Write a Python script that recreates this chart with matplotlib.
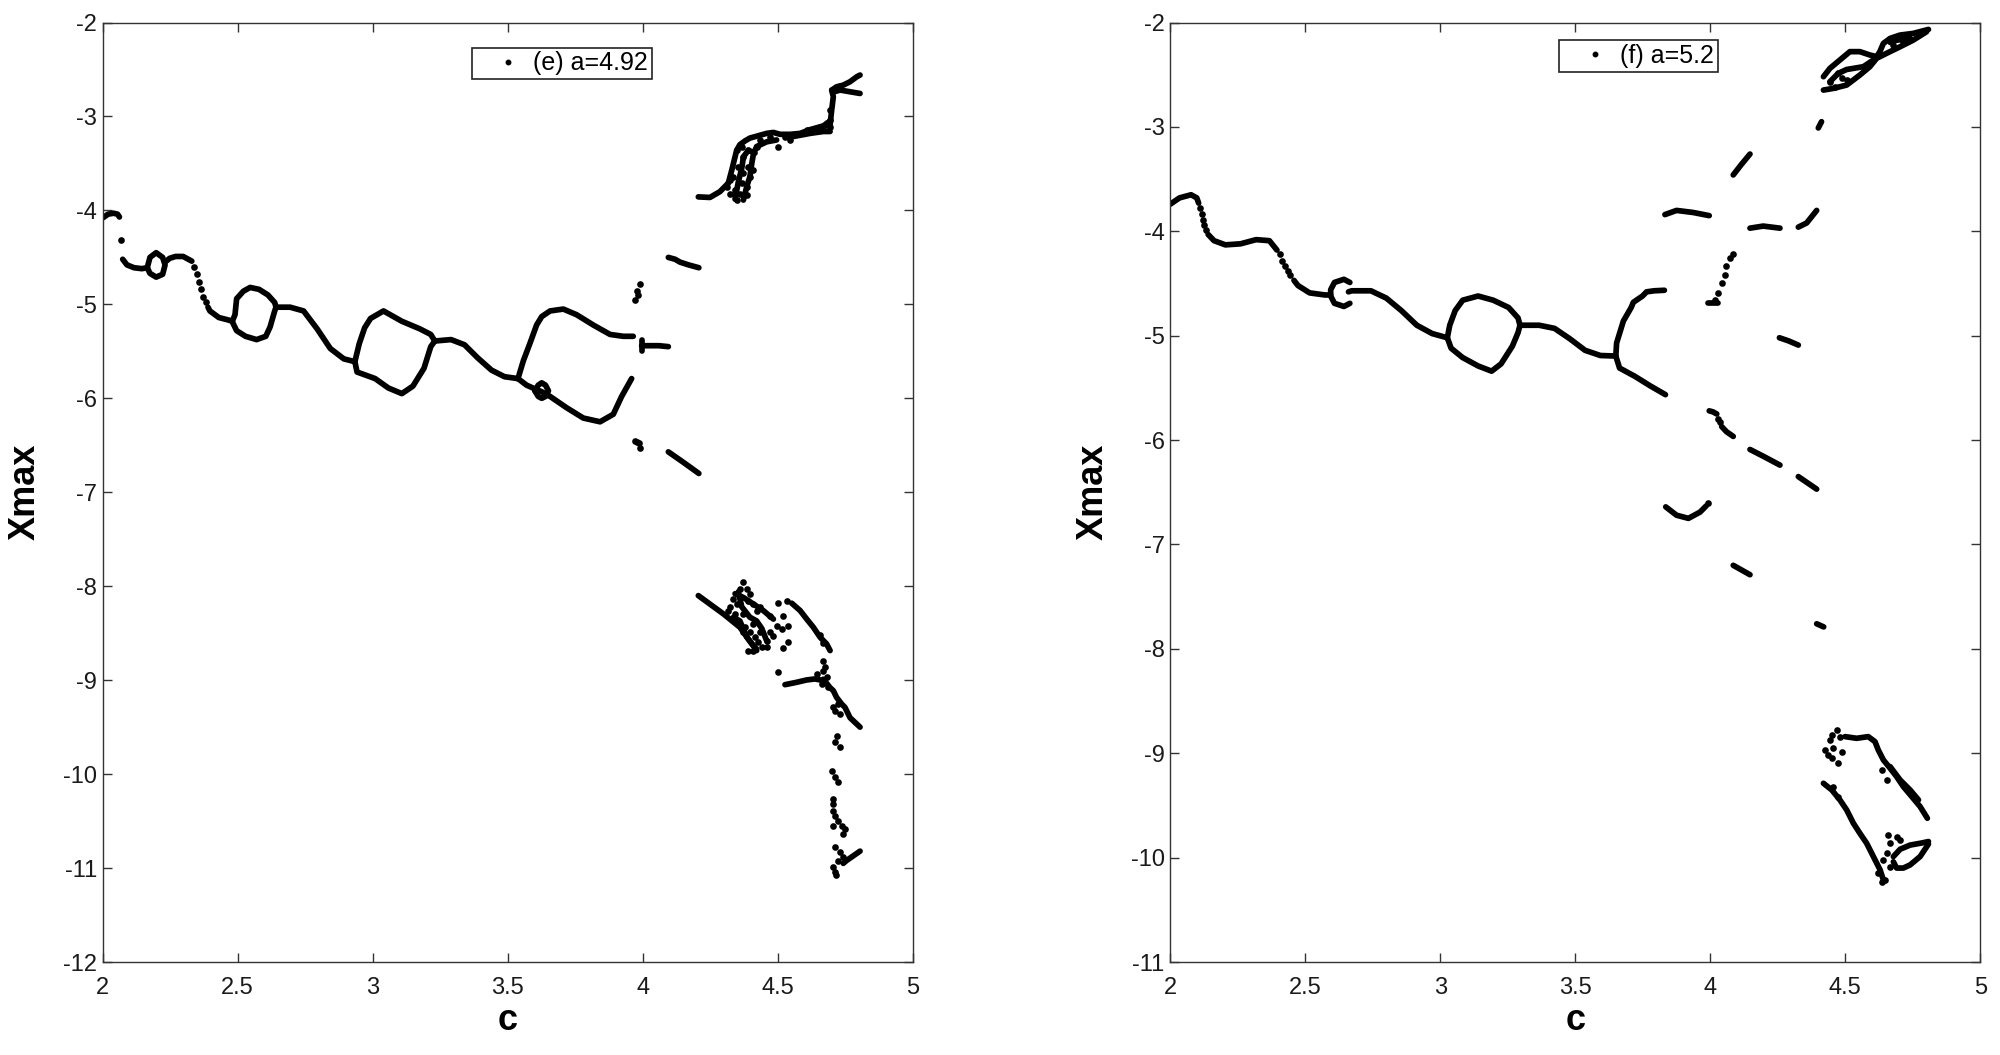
import matplotlib.pyplot as plt
from matplotlib.lines import Line2D

plt.rcParams['font.family'] = ['Liberation Sans', 'DejaVu Sans']

# x ticks shared by both panels
c_ticks = [2, 2.5, 3, 3.5, 4, 4.5, 5]
c_tick_labels = ['2', '2.5', '3', '3.5', '4', '4.5', '5']

# ---------------- panel (e), a = 4.92 ----------------
e_label = '(e) a=4.92'
e_yticks = [-12, -11, -10, -9, -8, -7, -6, -5, -4, -3, -2]

# dense branches (c values, Xmax values)
e_branches = [
    ([2.00, 2.02, 2.04, 2.055, 2.062], [-4.08, -4.04, -4.03, -4.04, -4.07]),
    ([2.074, 2.09, 2.116, 2.145, 2.165], [-4.52, -4.58, -4.61, -4.62, -4.61]),
    ([2.165, 2.175, 2.198, 2.222, 2.231, 2.222, 2.198, 2.175, 2.165],
     [-4.61, -4.50, -4.45, -4.50, -4.58, -4.68, -4.71, -4.67, -4.61]),
    ([2.231, 2.248, 2.27, 2.298, 2.33], [-4.55, -4.51, -4.49, -4.49, -4.54]),
    ([2.39, 2.397, 2.43, 2.47, 2.48], [-5.03, -5.07, -5.14, -5.17, -5.18]),
    ([2.48, 2.49, 2.496, 2.521, 2.546, 2.579, 2.612, 2.637, 2.642],
     [-5.18, -5.11, -4.94, -4.86, -4.82, -4.84, -4.90, -4.98, -5.03]),
    ([2.48, 2.496, 2.529, 2.570, 2.604, 2.62, 2.637, 2.642],
     [-5.185, -5.28, -5.34, -5.375, -5.34, -5.24, -5.07, -5.03]),
    ([2.642, 2.665, 2.694, 2.744, 2.794, 2.843, 2.893, 2.934],
     [-5.03, -5.03, -5.03, -5.07, -5.26, -5.47, -5.58, -5.61]),
    ([2.934, 2.95, 2.97, 2.992, 3.04, 3.108, 3.174, 3.215, 3.23],
     [-5.61, -5.42, -5.25, -5.15, -5.07, -5.18, -5.26, -5.32, -5.39]),
    ([2.934, 2.942, 3.009, 3.058, 3.108, 3.149, 3.19, 3.215, 3.23],
     [-5.61, -5.72, -5.79, -5.89, -5.95, -5.87, -5.68, -5.45, -5.39]),
    ([3.23, 3.29, 3.34, 3.389, 3.44, 3.488, 3.538],
     [-5.39, -5.375, -5.43, -5.57, -5.70, -5.77, -5.79]),
    ([3.538, 3.558, 3.583, 3.607, 3.626, 3.657, 3.706, 3.755, 3.817, 3.879, 3.928, 3.965],
     [-5.79, -5.60, -5.41, -5.22, -5.13, -5.07, -5.05, -5.11, -5.22, -5.32, -5.34, -5.34]),
    ([3.538, 3.57, 3.601, 3.626, 3.657, 3.718, 3.78, 3.842, 3.891, 3.922, 3.959],
     [-5.79, -5.86, -5.90, -5.93, -5.98, -6.10, -6.21, -6.25, -6.17, -5.98, -5.79]),
    ([3.601, 3.613, 3.626, 3.64, 3.651, 3.64, 3.626, 3.613, 3.601],
     [-5.92, -5.86, -5.835, -5.86, -5.92, -5.98, -6.0, -5.98, -5.92]),
    ([3.996, 4.03, 4.06, 4.095], [-5.44, -5.44, -5.44, -5.45]),
    ([3.996, 3.996], [-5.38, -5.50]),
    ([4.095, 4.12, 4.138, 4.17, 4.208], [-4.50, -4.52, -4.55, -4.58, -4.61]),
    ([4.095, 4.15, 4.208], [-6.57, -6.68, -6.80]),
    ([4.206, 4.249, 4.286, 4.317], [-3.856, -3.862, -3.80, -3.71]),
    ([4.317, 4.330, 4.348, 4.360, 4.379, 4.397, 4.422, 4.459, 4.484, 4.509, 4.546, 4.583, 4.620, 4.669, 4.694],
     [-3.71, -3.57, -3.36, -3.30, -3.26, -3.23, -3.21, -3.18, -3.17, -3.19, -3.19, -3.18, -3.14, -3.10, -3.05]),
    ([4.373, 4.385, 4.397, 4.404, 4.410, 4.422, 4.459, 4.496],
     [-3.89, -3.75, -3.64, -3.50, -3.40, -3.32, -3.27, -3.25]),
    ([4.342, 4.354, 4.367, 4.373, 4.391, 4.416],
     [-3.88, -3.70, -3.55, -3.43, -3.36, -3.39]),
    ([4.546, 4.583, 4.620, 4.669, 4.694], [-3.22, -3.20, -3.18, -3.16, -3.16]),
    ([4.694, 4.700, 4.706, 4.700], [-3.09, -2.93, -2.79, -2.72]),
    ([4.700, 4.718, 4.743, 4.768, 4.793, 4.805], [-2.72, -2.684, -2.666, -2.630, -2.577, -2.559]),
    ([4.706, 4.731, 4.768, 4.805], [-2.74, -2.719, -2.737, -2.755]),
    ([4.206, 4.299, 4.360, 4.422], [-8.100, -8.295, -8.437, -8.685]),
    ([4.342, 4.373, 4.410, 4.447, 4.484], [-8.08, -8.12, -8.19, -8.26, -8.35]),
    ([4.336, 4.360, 4.385, 4.404, 4.422], [-8.33, -8.37, -8.54, -8.61, -8.67]),
    ([4.354, 4.367, 4.397, 4.422, 4.441, 4.459], [-8.06, -8.22, -8.33, -8.37, -8.45, -8.58]),
    ([4.552, 4.583, 4.607, 4.632, 4.657, 4.681, 4.694],
     [-8.181, -8.259, -8.348, -8.437, -8.543, -8.614, -8.685]),
    ([4.527, 4.570, 4.607, 4.638, 4.669], [-9.048, -9.023, -8.998, -8.987, -9.005]),
    ([4.669, 4.694, 4.706, 4.718, 4.737, 4.749, 4.768, 4.805],
     [-8.99, -9.08, -9.112, -9.183, -9.254, -9.289, -9.40, -9.50]),
    ([4.743, 4.755, 4.780, 4.805], [-10.95, -10.92, -10.87, -10.82]),
]

# isolated points of panel (e)
e_dots_c = [2.066, 2.34, 2.35, 2.357, 2.365, 2.373, 2.382,
            3.99, 3.984, 3.972, 3.978, 3.97, 3.985, 3.99, 3.978,
            4.311, 4.336, 4.348, 4.373, 4.360, 4.348, 4.385, 4.397, 4.422, 4.472,
            4.502, 4.527, 4.694, 4.694, 4.688,
            4.323, 4.342, 4.323, 4.354, 4.373, 4.391, 4.367, 4.391, 4.410, 4.385,
            4.367, 4.434, 4.546, 4.607, 4.657, 4.681, 4.694, 4.669,
            4.373, 4.360, 4.336, 4.348, 4.397, 4.410, 4.422, 4.434, 4.472, 4.317,
            4.379, 4.410, 4.434, 4.459, 4.484, 4.391, 4.323,
            4.385, 4.391, 4.342, 4.373, 4.472, 4.416, 4.397, 4.373, 4.428, 4.441,
            4.410, 4.459,
            4.502, 4.533, 4.521, 4.496, 4.515, 4.539, 4.539, 4.521, 4.502,
            4.644, 4.669, 4.681, 4.663, 4.688, 4.669, 4.675, 4.657, 4.669,
            4.706, 4.725, 4.712, 4.731, 4.718, 4.712, 4.731, 4.700, 4.712, 4.725,
            4.704, 4.706, 4.704, 4.712, 4.725, 4.737, 4.706, 4.749, 4.743, 4.712,
            4.731, 4.743, 4.725, 4.706, 4.712, 4.716]
e_dots_x = [-4.31, -4.60, -4.68, -4.76, -4.84, -4.92, -4.98,
            -4.78, -4.90, -4.956, -4.86, -6.45, -6.48, -6.53, -6.47,
            -3.749, -3.642, -3.358, -3.607, -3.820, -3.891, -3.749, -3.642, -3.323, -3.216,
            -3.323, -3.216, -3.110, -2.932, -3.092,
            -3.678, -3.784, -3.820, -3.536, -3.429, -3.358, -3.323, -3.536, -3.571, -3.838,
            -3.713, -3.252, -3.252, -3.145, -3.128, -3.074, -3.039, -3.110,
            -7.957, -8.028, -8.135, -8.188, -8.082, -8.188, -8.259, -8.224, -8.313, -8.259,
            -8.437, -8.401, -8.490, -8.579, -8.526, -8.685, -8.224,
            -8.028, -8.153, -8.295, -8.295, -8.490, -8.543, -8.490, -8.490, -8.597, -8.650,
            -8.685, -8.650,
            -8.181, -8.160, -8.313, -8.419, -8.455, -8.419, -8.597, -8.657, -8.916,
            -8.934, -8.899, -8.970, -9.041, -9.076, -8.792, -8.863, -8.52, -8.60,
            -9.289, -9.254, -9.325, -9.360, -9.591, -9.662, -9.715, -9.964, -10.035, -10.088,
            -10.266, -10.319, -10.390, -10.443, -10.497, -10.550, -10.550, -10.585, -10.639, -10.781,
            -10.834, -10.887, -10.923, -10.994, -11.047, -11.07]

# ---------------- panel (f), a = 5.2 ----------------
f_label = '(f) a=5.2'
f_yticks = [-11, -10, -9, -8, -7, -6, -5, -4, -3, -2]

f_branches = [
    ([2.00, 2.034, 2.077, 2.098, 2.105], [-3.74, -3.68, -3.65, -3.68, -3.73]),
    ([2.14, 2.162, 2.204, 2.26, 2.318, 2.367, 2.395], [-4.03, -4.09, -4.13, -4.12, -4.08, -4.09, -4.18]),
    ([2.458, 2.473, 2.516, 2.573, 2.594], [-4.47, -4.52, -4.59, -4.61, -4.61]),
    ([2.665, 2.643, 2.608, 2.594, 2.594, 2.608, 2.643, 2.665],
     [-4.49, -4.46, -4.49, -4.56, -4.62, -4.69, -4.72, -4.69]),
    ([2.66, 2.672, 2.743, 2.80, 2.856, 2.913, 2.97, 3.026],
     [-4.58, -4.57, -4.57, -4.64, -4.76, -4.90, -4.98, -5.02]),
    ([3.026, 3.035, 3.055, 3.083, 3.14, 3.196, 3.253, 3.288, 3.295],
     [-5.02, -4.90, -4.76, -4.66, -4.62, -4.66, -4.73, -4.83, -4.90]),
    ([3.026, 3.04, 3.083, 3.14, 3.19, 3.225, 3.267, 3.288, 3.295],
     [-5.02, -5.12, -5.21, -5.29, -5.34, -5.27, -5.10, -4.97, -4.90]),
    ([3.295, 3.366, 3.423, 3.48, 3.536, 3.593, 3.65],
     [-4.90, -4.90, -4.93, -5.03, -5.14, -5.19, -5.195]),
    ([3.65, 3.653, 3.678, 3.707, 3.715, 3.749, 3.764, 3.792, 3.83],
     [-5.195, -5.07, -4.86, -4.73, -4.68, -4.62, -4.58, -4.57, -4.565]),
    ([3.65, 3.664, 3.721, 3.777, 3.834], [-5.195, -5.31, -5.39, -5.48, -5.565]),
    ([3.832, 3.875, 3.937, 3.996], [-3.84, -3.80, -3.82, -3.85]),
    ([3.993, 4.03], [-4.69, -4.69]),
    ([4.085, 4.115, 4.147], [-3.46, -3.36, -3.26]),
    ([4.147, 4.196, 4.258], [-3.97, -3.95, -3.97]),
    ([4.326, 4.357, 4.394], [-3.96, -3.92, -3.80]),
    ([4.400, 4.412], [-3.01, -2.95]),
    ([4.419, 4.456, 4.505, 4.554, 4.591, 4.616, 4.653, 4.703, 4.752, 4.801],
     [-2.647, -2.631, -2.599, -2.503, -2.423, -2.343, -2.295, -2.232, -2.168, -2.088]),
    ([4.419, 4.443, 4.480, 4.517, 4.554, 4.591, 4.616, 4.628, 4.641, 4.666, 4.703, 4.752, 4.808],
     [-2.519, -2.439, -2.359, -2.279, -2.279, -2.311, -2.327, -2.279, -2.200, -2.152, -2.120, -2.104, -2.066]),
    ([4.443, 4.474, 4.505, 4.567, 4.604], [-2.567, -2.487, -2.45, -2.423, -2.359]),
    ([4.666, 4.690, 4.715, 4.740], [-2.19, -2.17, -2.16, -2.15]),
    ([4.256, 4.29, 4.326], [-5.02, -5.05, -5.09]),
    ([3.996, 4.010, 4.024], [-5.72, -5.73, -5.75]),
    ([4.042, 4.06, 4.085], [-5.87, -5.92, -5.965]),
    ([4.147, 4.2, 4.258], [-6.09, -6.16, -6.24]),
    ([4.326, 4.36, 4.394], [-6.35, -6.41, -6.47]),
    ([3.835, 3.875, 3.919, 3.962, 3.985], [-6.64, -6.72, -6.75, -6.69, -6.63]),
    ([4.085, 4.147], [-7.20, -7.29]),
    ([4.394, 4.42], [-7.76, -7.79]),
    ([4.499, 4.542, 4.585, 4.610, 4.622, 4.641, 4.666, 4.690, 4.715, 4.746, 4.777, 4.804],
     [-8.841, -8.857, -8.841, -8.889, -8.968, -9.064, -9.144, -9.224, -9.320, -9.415, -9.511, -9.623]),
    ([4.666, 4.703, 4.740, 4.771], [-9.128, -9.256, -9.352, -9.447]),
    ([4.419, 4.450, 4.480, 4.505, 4.530, 4.554, 4.579, 4.604, 4.629, 4.641],
     [-9.288, -9.352, -9.447, -9.543, -9.671, -9.767, -9.862, -9.990, -10.118, -10.214]),
    ([4.678, 4.703, 4.740, 4.783, 4.808], [-9.99, -9.92, -9.88, -9.86, -9.846]),
    ([4.678, 4.690, 4.715, 4.740, 4.777, 4.808], [-10.04, -10.10, -10.10, -10.07, -9.99, -9.87]),
]

f_dots_c = [2.11, 2.116, 2.121, 2.126, 2.133,
            2.405, 2.415, 2.424, 2.435, 2.445,
            4.030, 4.042, 4.054, 4.06, 4.073, 4.085, 4.017,
            4.03, 4.036, 3.993,
            4.443, 4.474, 4.487, 4.462, 4.505, 4.678, 4.715,
            4.468, 4.450, 4.480, 4.443, 4.425, 4.456, 4.487, 4.437, 4.474, 4.450,
            4.653, 4.635, 4.456, 4.474, 4.659, 4.666, 4.653, 4.641, 4.666,
            4.622, 4.647, 4.635, 4.690, 4.703]
f_dots_x = [-3.78, -3.83, -3.89, -3.94, -3.99,
            -4.22, -4.28, -4.33, -4.38, -4.42,
            -4.59, -4.50, -4.42, -4.33, -4.26, -4.22, -4.66,
            -5.80, -5.83, -6.60,
            -2.567, -2.487, -2.535, -2.615, -2.551, -2.216, -2.184,
            -8.777, -8.825, -8.841, -8.873, -8.968, -8.952, -8.984, -9.016, -9.096, -9.048,
            -9.256, -9.160, -9.320, -9.415, -9.783, -9.862, -9.958, -10.022, -10.086,
            -10.150, -10.214, -10.230, -9.80, -9.83]

panels = [
    (e_branches, e_dots_c, e_dots_x, e_label, e_yticks, (-12, -2), (0.456, 0.9734)),
    (f_branches, f_dots_c, f_dots_x, f_label, f_yticks, (-11, -2), (0.480, 0.9810)),
]

fig = plt.figure(figsize=(20, 10.55), dpi=100)
axes_rects = [[0.05135, 0.08815, 0.405, 0.8905], [0.58515, 0.08815, 0.405, 0.8905]]
frame_color = '#333333'

for rect, (branches, dots_c, dots_x, label, yticks, ylim, leg_anchor) in zip(axes_rects, panels):
    ax = fig.add_axes(rect)
    for cs, xs in branches:
        ax.plot(cs, xs, '-', color='black', lw=4.1, solid_capstyle='round',
                solid_joinstyle='round')
    ax.plot(dots_c, dots_x, 'o', color='black', ms=4.8, mew=0)

    ax.set_xlim(2, 5)
    ax.set_ylim(*ylim)
    ax.set_xticks(c_ticks)
    ax.set_xticklabels(c_tick_labels)
    ax.set_yticks(yticks)
    ax.set_yticklabels([str(v) for v in yticks])
    ax.tick_params(direction='in', length=6.5, width=1, colors=frame_color,
                   labelsize=17, top=True, right=True)
    ax.tick_params(axis='x', pad=11, labelcolor='#1a1a1a')
    ax.tick_params(axis='y', pad=4, labelcolor='#1a1a1a')
    for sp in ax.spines.values():
        sp.set_color(frame_color)
        sp.set_linewidth(1.0)

    ax.set_xlabel('c', fontsize=26, fontweight='bold')
    ax.set_ylabel('Xmax', fontsize=26, fontweight='bold')
    ax.xaxis.set_label_coords(0.5, -0.044)
    ax.yaxis.set_label_coords(-0.074, 0.5)

    handle = Line2D([], [], marker='o', ms=3.2, color='black', ls='none')
    leg = ax.legend([handle], [label], loc='upper left', bbox_to_anchor=leg_anchor,
                    borderaxespad=0, fancybox=False, framealpha=1, fontsize=18,
                    handlelength=2.6, handletextpad=-0.3, borderpad=0.15)
    leg.get_frame().set_edgecolor('#222222')
    leg.get_frame().set_linewidth(1.2)

fig.savefig('out.png', dpi=100, facecolor='white')
